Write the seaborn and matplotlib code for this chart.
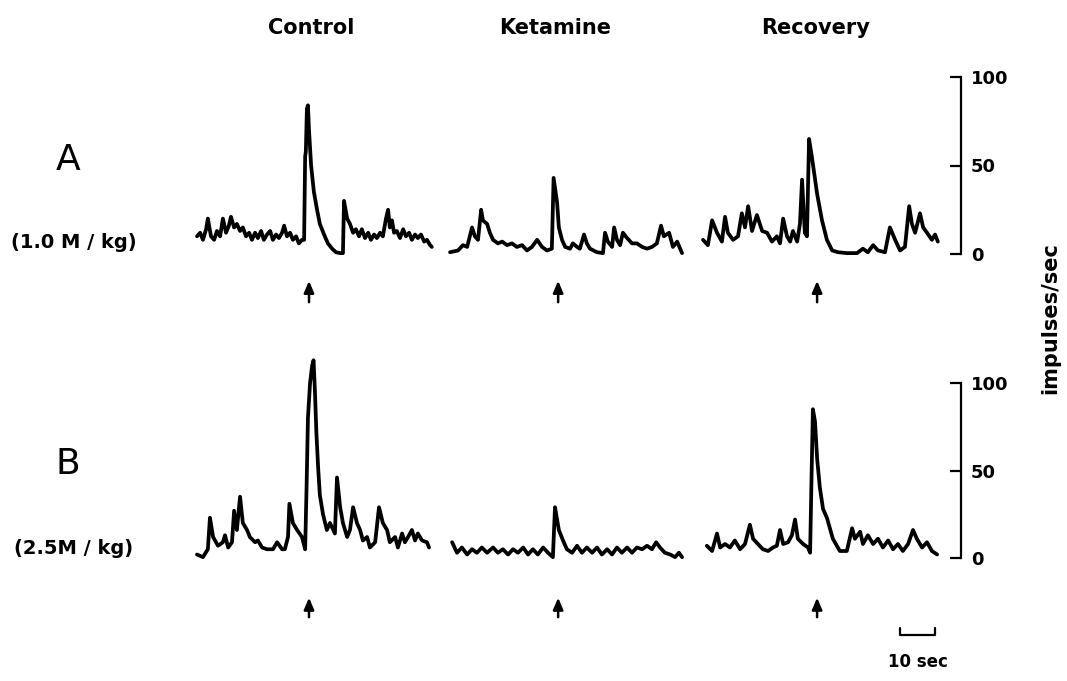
import numpy as np
import pandas as pd
import matplotlib
matplotlib.use("Agg")
import matplotlib.pyplot as plt
import seaborn as sns

# -------------------------------
# Data (time in sec, rate in impulses/sec)
# -------------------------------

conditions = ["Control", "Ketamine", "Recovery"]
doses = ["A", "B"]
dose_labels = ["(1.0 M / kg)", "(2.5M / kg)"]
stim_times = [32.0, 30.9, 32.6]
rate_ticks = [0, 50, 100]

a_control_t = [0.0, 0.9, 1.7, 2.6, 3.1, 4.0, 4.9, 5.7, 6.6, 7.4, 8.3, 9.1, 9.7, 10.6, 11.4, 12.3,
               13.1, 14.0, 14.9, 15.7, 16.6, 17.4, 18.3, 19.1, 20.0, 20.9, 21.7, 22.6, 23.4, 24.3,
               24.9, 25.7, 26.6, 27.4, 28.3, 29.1, 30.0, 30.6, 30.9, 31.1, 31.4, 31.7, 32.0, 32.6,
               33.4, 34.3, 35.1, 36.3, 37.4, 38.6, 39.7, 40.9, 41.7, 42.0, 42.9, 43.7, 44.6, 45.4,
               46.3, 47.1, 48.0, 48.9, 49.7, 50.6, 51.4, 52.3, 53.1, 54.0, 54.6, 55.1, 55.7, 56.3,
               57.1, 58.0, 58.9, 59.7, 60.6, 61.4, 62.3, 63.1, 64.0, 64.9, 65.7, 66.6, 67.1]
a_control_v = [10, 12, 8, 14, 20, 10, 8, 13, 10, 20, 12, 16, 21, 15, 17, 13,
               15, 10, 12, 8, 12, 9, 13, 8, 11, 13, 8, 11, 9, 12,
               16, 10, 12, 8, 10, 6, 8, 8, 55, 58, 82, 84, 70, 50,
               35, 25, 17, 11, 6, 3, 1, 0.5, 0.5, 30, 20, 17, 12, 14,
               10, 14, 9, 12, 8, 11, 9, 12, 10, 20, 25, 15, 19, 12,
               13, 9, 14, 10, 12, 8, 11, 9, 11, 7, 8, 5, 4]

a_ketamine_t = [0.0, 2.3, 3.7, 4.9, 6.3, 7.1, 8.0, 8.9, 9.4, 10.6, 11.4, 12.3, 13.7, 14.9, 16.3,
                17.7, 19.1, 20.6, 22.0, 23.4, 24.9, 26.3, 27.7, 29.1, 29.6, 30.6, 31.1, 32.0, 32.9,
                34.3, 35.1, 36.3, 37.1, 38.3, 39.1, 40.0, 42.0, 43.7, 44.3, 45.1, 46.3, 46.9, 47.7,
                48.6, 49.4, 50.6, 52.0, 53.4, 54.9, 56.3, 57.7, 59.1, 60.3, 61.1, 62.6, 63.7, 64.9, 66.3]
a_ketamine_v = [1, 2, 5, 4, 15, 10, 8, 25, 19, 17, 12, 8, 6, 7, 5,
                6, 4, 5, 2, 4, 8, 4, 2, 3, 43, 29, 15, 8, 4,
                3, 6, 4, 3, 11, 6, 3, 1, 0.5, 12, 7, 4, 15, 8,
                5, 12, 9, 6, 6, 4, 3, 4, 6, 16, 10, 12, 4, 7, 0.5]

a_recovery_t = [0.0, 1.4, 2.6, 4.0, 5.4, 6.3, 7.1, 8.6, 10.0, 11.1, 12.0, 12.9, 14.0, 15.4, 16.9,
                18.3, 19.7, 21.1, 22.0, 22.9, 24.0, 24.9, 25.7, 26.9, 27.7, 28.3, 29.1, 29.7, 30.3,
                31.1, 32.6, 34.0, 35.4, 36.9, 38.6, 41.1, 44.0, 45.7, 47.1, 48.6, 50.0, 52.0, 53.4,
                54.9, 56.3, 57.7, 58.9, 59.7, 60.6, 62.0, 62.9, 64.0, 65.4, 66.3, 67.1]
a_recovery_v = [8, 5, 19, 12, 7, 21, 12, 8, 10, 23, 15, 27, 13, 22, 13,
                12, 7, 10, 6, 20, 10, 7, 13, 7, 17, 42, 12, 10, 65,
                55, 34, 19, 8, 2, 1, 0.5, 0.5, 3, 1, 5, 2, 1, 15,
                8, 2, 4, 27, 17, 12, 23, 15, 12, 8, 11, 7]

b_control_t = [0.0, 1.7, 3.1, 3.7, 4.6, 6.0, 7.4, 8.0, 8.9, 10.0, 10.6, 11.4, 12.3, 13.1, 14.3,
               15.1, 16.6, 17.4, 18.6, 20.0, 21.7, 22.9, 24.3, 25.1, 26.0, 26.4, 27.4, 28.6, 30.0,
               30.9, 31.3, 31.7, 32.3, 32.9, 33.3, 33.7, 34.1, 34.6, 35.1, 36.0, 37.1, 38.0, 39.4,
               40.0, 40.9, 41.7, 42.9, 43.7, 44.6, 45.7, 46.6, 47.4, 48.6, 49.4, 50.9, 52.0, 53.1,
               54.3, 55.1, 56.6, 57.4, 58.6, 59.4, 60.3, 61.4, 62.3, 63.1, 64.3, 65.7, 66.3]
b_control_v = [2, 0.5, 5, 23, 12, 7, 9, 13, 6, 9, 27, 16, 35, 20, 16,
               12, 9, 10, 6, 5, 5, 9, 5, 5, 12, 31, 20, 16, 12,
               5, 40, 80, 100, 110, 113, 95, 72, 52, 36, 25, 16, 20, 14,
               46, 29, 20, 12, 16, 29, 20, 16, 10, 12, 6, 9, 29, 20,
               16, 9, 12, 6, 14, 9, 12, 16, 10, 14, 10, 9, 6]

b_ketamine_t = [0.6, 2.0, 3.4, 4.9, 6.3, 7.7, 9.1, 10.6, 12.3, 13.7, 15.1, 16.6, 18.0, 19.4, 20.9,
                22.3, 23.7, 25.1, 26.6, 28.0, 29.4, 30.0, 31.1, 32.3, 33.4, 34.9, 36.3, 37.7, 39.1,
                40.6, 42.0, 43.4, 44.9, 46.3, 47.7, 49.1, 50.6, 52.0, 53.4, 54.9, 56.3, 57.7, 58.9,
                60.0, 61.4, 62.9, 64.3, 65.4, 66.3]
b_ketamine_v = [9, 3, 6, 2, 5, 3, 6, 3, 6, 3, 5, 2, 5, 3, 6,
                2, 5, 2, 6, 3, 0.5, 29, 16, 10, 5, 3, 7, 3, 6,
                3, 6, 2, 5, 2, 6, 3, 6, 3, 6, 5, 7, 5, 9,
                6, 3, 2, 0.5, 3, 0.5]

b_recovery_t = [1.1, 2.6, 4.0, 4.9, 6.3, 7.7, 9.1, 10.6, 12.0, 13.4, 14.3, 15.7, 17.1, 18.6, 20.0,
                21.1, 22.0, 22.9, 24.3, 25.4, 26.3, 27.1, 28.6, 30.0, 30.6, 31.0, 31.4, 32.0, 32.6,
                33.4, 34.3, 35.4, 37.1, 39.1, 41.1, 42.6, 43.4, 44.9, 45.7, 47.1, 48.6, 50.0, 51.4,
                52.9, 54.3, 55.7, 57.1, 58.6, 60.0, 61.1, 62.6, 64.0, 65.4, 66.9]
b_recovery_v = [7, 4, 14, 6, 8, 6, 10, 5, 8, 19, 11, 8, 5, 4, 6,
                7, 16, 8, 9, 13, 22, 11, 8, 6, 3, 45, 85, 78, 57,
                40, 28, 23, 11, 4, 4, 17, 11, 15, 8, 13, 8, 11, 6,
                10, 5, 8, 4, 8, 16, 11, 6, 9, 4, 2]

traces = {
    ("A", "Control"): (a_control_t, a_control_v),
    ("A", "Ketamine"): (a_ketamine_t, a_ketamine_v),
    ("A", "Recovery"): (a_recovery_t, a_recovery_v),
    ("B", "Control"): (b_control_t, b_control_v),
    ("B", "Ketamine"): (b_ketamine_t, b_ketamine_v),
    ("B", "Recovery"): (b_recovery_t, b_recovery_v),
}

rows = []
for (dose, cond), (t, v) in traces.items():
    for ti, vi in zip(t, v):
        rows.append({"dose": dose, "condition": cond, "time": ti, "rate": vi})
df = pd.DataFrame(rows)

# -------------------------------
# Layout (pixel geometry of the reference)
# -------------------------------

sns.set_style("white")
plt.rcParams["font.family"] = ["DejaVu Sans"]
plt.rcParams["text.color"] = "black"

W, H = 1067, 681
fig = plt.figure(figsize=(W / 100, H / 100), dpi=100)

col_left = [197, 450, 703]
px_per_sec = 3.5
span_sec = 67
row_zero = [254, 558]
row_hundred = [77, 383]
arrow_y = [(-13.6, -28.8), (-21.1, -35.4)]

for r, dose in enumerate(doses):
    for c, cond in enumerate(conditions):
        ax = fig.add_axes([col_left[c] / W, 1 - row_zero[r] / H,
                           span_sec * px_per_sec / W,
                           (row_zero[r] - row_hundred[r]) / H])
        sub = df[(df["dose"] == dose) & (df["condition"] == cond)]
        sns.lineplot(data=sub, x="time", y="rate", ax=ax, color="black",
                     lw=2.7, estimator=None, clip_on=False)
        ax.set_xlim(0, span_sec)
        ax.set_ylim(0, 100)
        ax.set_xlabel("")
        ax.set_ylabel("")
        ax.patch.set_alpha(0)
        for s in ["top", "left", "bottom"]:
            ax.spines[s].set_visible(False)
        ax.set_xticks([])

        # stimulus arrow
        ax.annotate("", xy=(stim_times[c], arrow_y[r][0]),
                    xytext=(stim_times[c], arrow_y[r][1]),
                    arrowprops=dict(arrowstyle="-|>,head_width=0.3,head_length=0.7",
                                    color="black", lw=1.8),
                    annotation_clip=False)

        if cond == "Recovery":
            ax.spines["right"].set_position(("outward", 17))
            ax.spines["right"].set_bounds(0, 100)
            ax.spines["right"].set_linewidth(1.6)
            ax.spines["right"].set_color("black")
            ax.yaxis.tick_right()
            ax.set_yticks(rate_ticks)
            ax.set_yticklabels([str(v) for v in rate_ticks])
            ax.tick_params(axis="y", direction="in", length=8, width=1.6,
                           pad=7, labelsize=13, colors="black")
            for lbl in ax.get_yticklabels():
                lbl.set_fontweight("bold")
        else:
            ax.spines["right"].set_visible(False)
            ax.set_yticks([])

        if dose == "B" and cond == "Recovery":
            # 10 sec scale bar
            x0, x1, yb = 56.3, 66.3, -44
            ax.plot([x0, x0, x1, x1], [yb + 4, yb, yb, yb + 4], color="black",
                    lw=1.6, clip_on=False)
            ax.text((x0 + x1) / 2, -59.5, "10 sec", ha="center", va="center",
                    fontsize=12, fontweight="bold", color="black")

# -------------------------------
# Text labels
# -------------------------------

title_x = [311, 555, 816]
for c, cond in enumerate(conditions):
    fig.text(title_x[c] / W, 1 - 28 / H, cond, ha="center", va="center",
             fontsize=15, fontweight="bold", color="black")

for r, dose in enumerate(doses):
    fig.text(68 / W, 1 - [160, 464][r] / H, dose, ha="center", va="center",
             fontsize=26, color="black")
    fig.text(74 / W, 1 - [242, 548][r] / H, dose_labels[r], ha="center",
             va="center", fontsize=14, fontweight="bold", color="black")

fig.text(1050 / W, 1 - 318 / H, "impulses/sec", rotation=90, ha="center",
         va="center", fontsize=15, fontweight="bold", color="black")

fig.savefig("out.png", dpi=100, facecolor="white")
plt.close(fig)
